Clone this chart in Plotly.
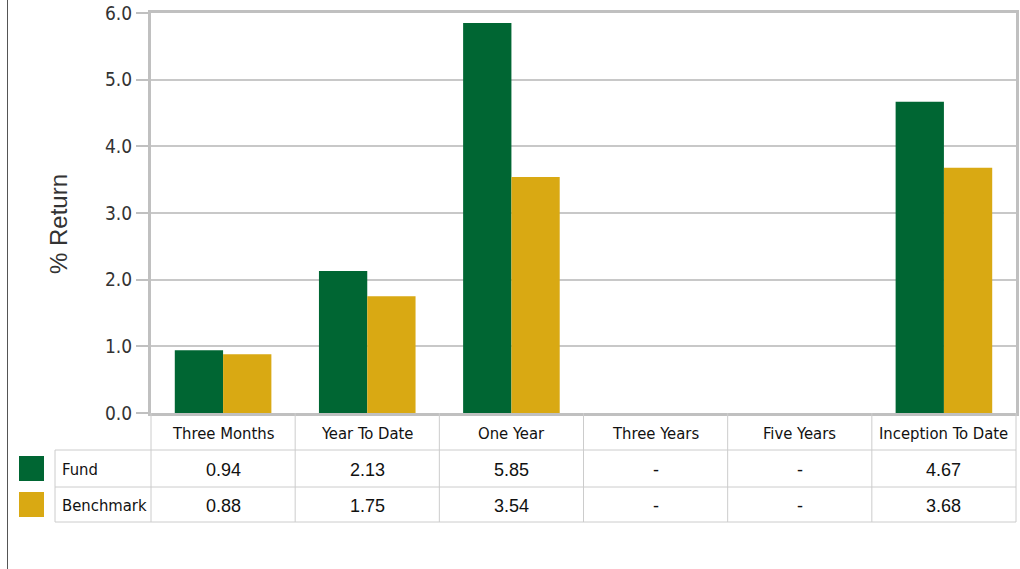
import plotly.graph_objects as go

categories = ["Three Months", "Year To Date", "One Year", "Three Years", "Five Years", "Inception To Date"]
fund = [0.94, 2.13, 5.85, None, None, 4.67]
benchmark = [0.88, 1.75, 3.54, None, None, 3.68]
series_names = ["Fund", "Benchmark"]
y_ticks = [0, 1, 2, 3, 4, 5, 6]
y_title = "% Return"

GREEN = "#006633"
GOLD = "#D9A913"
W, H = 1020, 569
NARROW = "DejaVu Sans Condensed, Liberation Sans, Arial, sans-serif"

x0p, x1p = 151, 1016
y0p, y1p = 13, 413

def px_x(x):
    return x / W

def px_y(y):
    return 1 - y / H

fig = go.Figure()
fig.add_trace(go.Bar(x=categories, y=fund, name="Fund", marker=dict(color=GREEN, line=dict(width=0))))
fig.add_trace(go.Bar(x=categories, y=benchmark, name="Benchmark", marker=dict(color=GOLD, line=dict(width=0))))

fig.update_layout(
    width=W, height=H,
    margin=dict(l=0, r=0, t=0, b=0, autoexpand=False),
    paper_bgcolor="white", plot_bgcolor="white",
    showlegend=False,
    barmode="group", bargap=0.33, bargroupgap=0,
    xaxis=dict(domain=[px_x(x0p), px_x(x1p)], showticklabels=False, ticks="", automargin=False,
               showgrid=False, showline=True, mirror=True, linecolor="#c0c0c0", linewidth=3,
               zeroline=False),
    yaxis=dict(domain=[px_y(y1p), px_y(y0p)], range=[0, 6], tickvals=y_ticks, automargin=False,
               ticktext=[f"{v:.1f}" for v in y_ticks],
               showgrid=True, gridcolor="#c8c8c8", gridwidth=2,
               showline=True, mirror=True, linecolor="#c0c0c0", linewidth=3,
               ticks="outside", ticklen=12, tickcolor="#c0c0c0", tickwidth=2,
               zeroline=False,
               tickfont=dict(family=NARROW, size=19, color="#333333")),
)

shapes = []
ann = []
ann.append(dict(x=px_x(58), y=px_y(224), xref="paper", yref="paper", text=y_title, showarrow=False,
                textangle=-90, xanchor="center", yanchor="middle",
                font=dict(family="Liberation Sans", size=24, color="#333333")))
shapes.append(dict(type="line", xref="paper", yref="paper", x0=px_x(7.5), x1=px_x(7.5), y0=0, y1=1,
                   line=dict(color="#555555", width=1)))

col_w = (x1p - x0p) / len(categories)
col_edges = [x0p + i * col_w for i in range(len(categories) + 1)]
row_y = [413, 450, 487, 522]
label_x0 = 55
grid = "#cccccc"
for xe in col_edges:
    shapes.append(dict(type="line", xref="paper", yref="paper", x0=px_x(xe), x1=px_x(xe),
                       y0=px_y(row_y[0]), y1=px_y(row_y[3]), line=dict(color=grid, width=1)))
shapes.append(dict(type="line", xref="paper", yref="paper", x0=px_x(label_x0), x1=px_x(label_x0),
                   y0=px_y(row_y[1]), y1=px_y(row_y[3]), line=dict(color=grid, width=1)))
for ry in row_y[1:]:
    shapes.append(dict(type="line", xref="paper", yref="paper", x0=px_x(label_x0), x1=px_x(x1p),
                       y0=px_y(ry), y1=px_y(ry), line=dict(color=grid, width=1)))

for i, c in enumerate(categories):
    cx = (col_edges[i] + col_edges[i + 1]) / 2
    ann.append(dict(x=px_x(cx), y=px_y((row_y[0] + row_y[1]) / 2 + 2), xref="paper", yref="paper",
                    text=c, showarrow=False, xanchor="center", yanchor="middle",
                    font=dict(family=NARROW, size=16.5, color="#111111")))

series = [fund, benchmark]
colors = [GREEN, GOLD]
for r, (name, vals, col) in enumerate(zip(series_names, series, colors)):
    yc = (row_y[r + 1] + row_y[r + 2]) / 2
    shapes.append(dict(type="rect", xref="paper", yref="paper", x0=px_x(19), x1=px_x(44),
                       y0=px_y(yc + 12.5), y1=px_y(yc - 12.5), fillcolor=col, line=dict(width=0)))
    ann.append(dict(x=px_x(60), y=px_y(yc + 1), xref="paper", yref="paper", text=name, showarrow=False,
                    xanchor="left", yanchor="middle",
                    font=dict(family=NARROW, size=16.5, color="#111111")))
    for i, v in enumerate(vals):
        cx = (col_edges[i] + col_edges[i + 1]) / 2
        ann.append(dict(x=px_x(cx), y=px_y(yc + 1), xref="paper", yref="paper",
                        text="-" if v is None else f"{v:.2f}", showarrow=False,
                        xanchor="center", yanchor="middle",
                        font=dict(family="Liberation Sans", size=18, color="#111111")))

fig.update_layout(shapes=shapes, annotations=ann)
fig.write_html("out.html")
